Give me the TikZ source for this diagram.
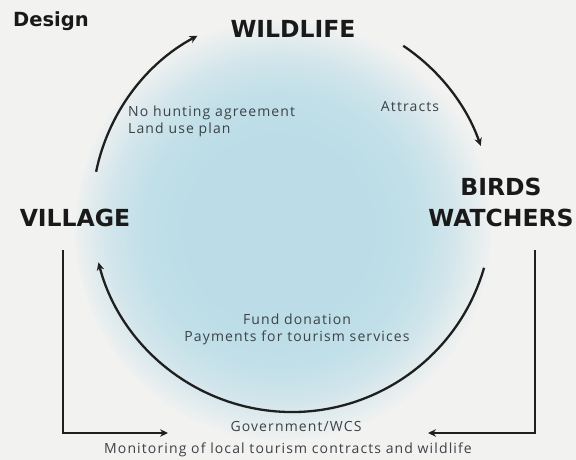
\documentclass[tikz,border=0pt]{standalone}
\usepackage{fontspec}
\usetikzlibrary{arrows.meta}
\newfontfamily\labelfont{DejaVu Sans}
\newfontfamily\notefont[LetterSpace=8]{Open Sans}
\definecolor{paper}{RGB}{242,242,241}
\definecolor{poolblue}{RGB}{188,221,231}
\definecolor{notegray}{RGB}{60,66,70}
\pgfdeclareradialshading{poolfade}{\pgfpoint{-1.5bp}{0bp}}{%
  color(0bp)=(poolblue); color(11bp)=(poolblue);
  color(16bp)=(poolblue!90!paper); color(20bp)=(poolblue!62!paper);
  color(23bp)=(poolblue!25!paper); color(25bp)=(paper); color(50bp)=(paper)}

\begin{document}
\begin{tikzpicture}[
        x=1pt, y=1pt,
        actor/.style={font=\labelfont\bfseries\fontsize{23.5}{31}\selectfont, text=black!90, inner sep=0pt, align=center},
        note/.style={font=\notefont\fontsize{14}{16.5}\selectfont, text=notegray, inner sep=0pt},
        cycle/.style={draw=black!88, line width=2.3pt, -{Stealth[length=8pt,width=7.5pt]}},
        elbow/.style={draw=black!88, line width=2.6pt, -{Stealth[length=8pt,width=7.5pt]}}
    ]
    \fill[paper] (0,0) rectangle (576,460);
    \useasboundingbox (0,0) rectangle (576,460);
    \shade[shading=poolfade] (288,230) circle[radius=212];
    % actors
    \node[font=\labelfont\bfseries\fontsize{19.5}{22}\selectfont, text=black!90, inner sep=0pt] (design) at (51,439) {Design};
    \node[actor] (wildlife) at (293,431) {WILDLIFE};
    \node[actor] (village) at (75,242) {VILLAGE};
    \node[actor] (birds) at (501,257.5) {BIRDS\\WATCHERS};
    % flows
    \node[note, align=left, anchor=west] (rules) at (128,338.5) {No hunting agreement\\Land use plan};
    \node[note] (attracts) at (410,353) {Attracts};
    \node[note, align=center] (fund) at (297,130.5) {Fund donation\\Payments for tourism services};
    \node[note] (gov) at (296,33) {Government/WCS};
    \node[note] (monitor) at (288,10) {Monitoring of local tourism contracts and wildlife};
    % cycle arcs
    \coordinate (hub) at (292,248);
    \coordinate (villageout) at ([shift={(168.4:200)}]hub);
    \coordinate (wildout) at ([shift={(56.2:200)}]hub);
    \coordinate (birdsout) at ([shift={(-16.2:200)}]hub);
    \draw[cycle] (villageout) arc[start angle=168.4, end angle=118.2, radius=200];
    \draw[cycle] (wildout) arc[start angle=56.2, end angle=19.3, radius=200];
    \draw[cycle] (birdsout) arc[start angle=-16.2, end angle=-165.4, radius=200];
    % monitoring elbows
    \coordinate (vilfoot) at (63,210);
    \coordinate (vilend) at (168,27);
    \coordinate (birdfoot) at (535,210);
    \coordinate (birdend) at (428,27);
    \draw[elbow] (vilfoot) |- (vilend);
    \draw[elbow] (birdfoot) |- (birdend);
\end{tikzpicture}
\end{document}
